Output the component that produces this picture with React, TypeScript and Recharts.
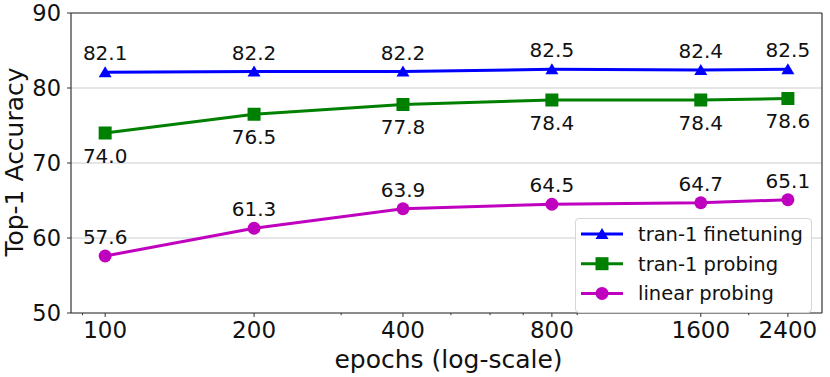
import React from 'react';
import { LineChart, Line, XAxis, YAxis, CartesianGrid, ReferenceLine, LabelList, Legend, Label } from 'recharts';

const epochs = [100, 200, 400, 800, 1600, 2400];
const finetuning = [82.1, 82.2, 82.2, 82.5, 82.4, 82.5];
const tranProbing = [74.0, 76.5, 77.8, 78.4, 78.4, 78.6];
const linearProbing = [57.6, 61.3, 63.9, 64.5, 64.7, 65.1];
const majorTicks = [100, 200, 400, 800, 1600, 2400];
const minorTicks = [90, 300, 500, 600, 700, 900, 2000];
const yTicks = [50, 60, 70, 80, 90];
const seriesNames = ['tran-1 finetuning', 'tran-1 probing', 'linear probing'];
const xDomain = [85.3, 2813];

const BLUE = '#0000ff';
const GREEN = '#008000';
const MAGENTA = '#bf00bf';
const FONT = '"DejaVu Sans", sans-serif';
const SPINE = '#333333';

const data = epochs.map((e, i) => ({ epoch: e, ft: finetuning[i], tp: tranProbing[i], lp: linearProbing[i] }));

const triangle = (cx: number, cy: number, color: string, key?: any) => (
  <polygon key={key} points={`${cx},${cy - 6} ${cx - 6.5},${cy + 5} ${cx + 6.5},${cy + 5}`} fill={color} />
);
const square = (cx: number, cy: number, color: string, key?: any) => (
  <rect key={key} x={cx - 6.5} y={cy - 6.5} width={13} height={13} fill={color} />
);
const circle = (cx: number, cy: number, color: string, key?: any) => (
  <circle key={key} cx={cx} cy={cy} r={6.5} fill={color} />
);

const makeLabel = (dy: number) => (p: any) => {
  const x = p.x ?? p.viewBox?.x;
  const y = p.y ?? p.viewBox?.y;
  return (
    <text x={x} y={y + dy} textAnchor="middle" fontFamily={FONT} fontSize={20} fill="#111">
      {Number(p.value).toFixed(1)}
    </text>
  );
};

const XTick = (p: any) => {
  const v = p.payload.value;
  const major = majorTicks.includes(v);
  return (
    <g>
      <line x1={p.x} x2={p.x} y1={p.y} y2={p.y + (major ? 4 : 2.2)} stroke={SPINE} strokeWidth={1} />
      {major && (
        <text x={p.x} y={p.y + 25} textAnchor="middle" fontFamily={FONT} fontSize={23} fill="#111">
          {v}
        </text>
      )}
    </g>
  );
};

const LegendBox = () => {
  const rows = [
    { name: seriesNames[0], color: BLUE, m: triangle },
    { name: seriesNames[1], color: GREEN, m: square },
    { name: seriesNames[2], color: MAGENTA, m: circle },
  ];
  return (
    <div
      style={{
        width: 237,
        height: 95,
        border: '1px solid #d6d6d6',
        borderRadius: 4,
        background: 'rgba(255,255,255,0.85)',
        boxSizing: 'border-box',
      }}
    >
      <svg width={235} height={93} style={{ display: 'block' }}>
        {rows.map((r, i) => {
          const cy = 15 + i * 29.7;
          return (
            <g key={i}>
              <line x1={5} x2={47} y1={cy} y2={cy} stroke={r.color} strokeWidth={3} />
              {r.m(26, cy, r.color)}
              <text x={62} y={cy + 7} fontFamily={FONT} fontSize={19.5} fill="#111">
                {r.name}
              </text>
            </g>
          );
        })}
      </svg>
    </div>
  );
};

export default function App() {
  return (
    <div style={{ position: 'absolute', left: 0, top: 0, width: 830, height: 377, background: '#fff' }}>
      <LineChart width={830} height={377} data={data} margin={{ top: 13, right: 8, left: 0, bottom: 0 }}>
        <CartesianGrid horizontal vertical={false} stroke="#cccccc" strokeWidth={1} />
        <XAxis
          dataKey="epoch"
          type="number"
          scale="log"
          domain={xDomain}
          allowDataOverflow
          ticks={[...minorTicks, ...majorTicks].sort((a, b) => a - b)}
          interval={0}
          height={64}
          tickSize={0}
          tickMargin={0}
          tickLine={false}
          tick={<XTick />}
          axisLine={{ stroke: SPINE, strokeWidth: 1.2 }}
        >
          <Label
            content={(p: any) => {
              const vb = p.viewBox;
              return (
                <text x={vb.x + vb.width / 2 + 2} y={368} textAnchor="middle" fontFamily={FONT} fontSize={25} fill="#111">
                  epochs (log-scale)
                </text>
              );
            }}
          />
        </XAxis>
        <YAxis
          type="number"
          domain={[50, 90]}
          ticks={yTicks}
          width={71}
          tickSize={4}
          tickMargin={6}
          tickLine={{ stroke: SPINE }}
          axisLine={{ stroke: SPINE, strokeWidth: 1.2 }}
          tick={{ fontFamily: FONT, fontSize: 22.5, fill: '#111' }}
          allowDataOverflow
        >
          <Label
            content={() => (
              <text
                x={23}
                y={162}
                transform="rotate(-90, 23, 162)"
                textAnchor="middle"
                fontFamily={FONT}
                fontSize={25}
                fill="#111"
              >
                Top-1 Accuracy
              </text>
            )}
          />
        </YAxis>
        <ReferenceLine y={90} stroke={SPINE} strokeWidth={1.2} />
        <ReferenceLine x={xDomain[1]} stroke={SPINE} strokeWidth={1.2} />
        <Line
          dataKey="ft"
          name={seriesNames[0]}
          stroke={BLUE}
          strokeWidth={3}
          isAnimationActive={false}
          dot={(p: any) => triangle(p.cx, p.cy, BLUE, `ft${p.index}`)}
        >
          <LabelList dataKey="ft" content={makeLabel(-12)} />
        </Line>
        <Line
          dataKey="tp"
          name={seriesNames[1]}
          stroke={GREEN}
          strokeWidth={3}
          isAnimationActive={false}
          dot={(p: any) => square(p.cx, p.cy, GREEN, `tp${p.index}`)}
        >
          <LabelList dataKey="tp" content={makeLabel(29.5)} />
        </Line>
        <Line
          dataKey="lp"
          name={seriesNames[2]}
          stroke={MAGENTA}
          strokeWidth={3}
          isAnimationActive={false}
          dot={(p: any) => circle(p.cx, p.cy, MAGENTA, `lp${p.index}`)}
        >
          <LabelList dataKey="lp" content={makeLabel(-12)} />
        </Line>
        <Legend
          layout="horizontal"
          verticalAlign="middle"
          align="center"
          content={() => <LegendBox />}
          wrapperStyle={{ position: 'absolute', left: 575, top: 218, width: 237, height: 95 }}
        />
      </LineChart>
    </div>
  );
}
